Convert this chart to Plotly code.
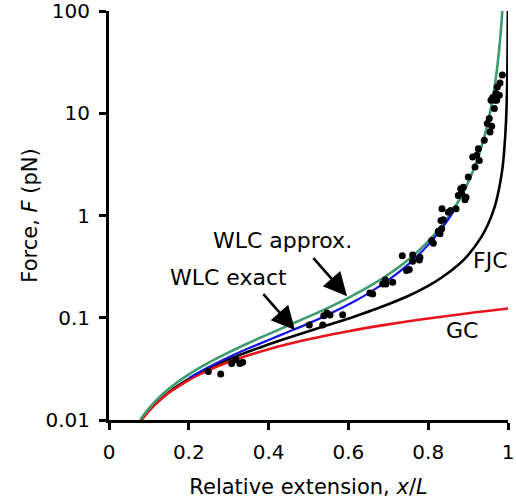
import plotly.graph_objects as go

# WLC approx. (green)
wlc_approx_x = [0.078, 0.09, 0.1, 0.12, 0.15, 0.2, 0.25, 0.3, 0.35, 0.4, 0.45, 0.5, 0.55, 0.6, 0.65,
                0.7, 0.75, 0.8, 0.85, 0.88, 0.9, 0.92, 0.94, 0.95, 0.96, 0.97, 0.975, 0.98, 0.983, 0.986]
wlc_approx_F = [0.0100, 0.01164, 0.0130, 0.01581, 0.0202, 0.0279, 0.0364, 0.0459, 0.0567, 0.0692, 0.0842,
                0.1025, 0.1258, 0.1568, 0.2002, 0.2647, 0.369, 0.558, 0.960, 1.475, 2.10, 3.26, 5.75,
                8.26, 12.9, 22.8, 32.9, 51.3, 71.0, 104.7]

# WLC exact (blue)
wlc_exact_x = [0.2, 0.25, 0.3, 0.35, 0.4, 0.45, 0.5, 0.55, 0.6, 0.65, 0.7, 0.75, 0.8, 0.85, 0.865]
wlc_exact_F = [0.0257, 0.0330, 0.0411, 0.0502, 0.0606, 0.0729, 0.0881, 0.1078, 0.1346, 0.1733,
               0.2330, 0.3323, 0.5162, 0.914, 1.128]

# FJC (black)
fjc_x = [0.081, 0.0994, 0.164, 0.241, 0.313, 0.379, 0.438, 0.537, 0.614, 0.672, 0.751, 0.800, 0.833,
         0.875, 0.900, 0.933, 0.950, 0.967, 0.975, 0.980, 0.986, 0.990, 0.995, 0.998, 0.999, 0.9996]
fjc_F = [0.0100, 0.0123, 0.0205, 0.03075, 0.041, 0.05125, 0.0615, 0.082, 0.1025, 0.123, 0.164, 0.205,
         0.246, 0.328, 0.41, 0.615, 0.82, 1.23, 1.64, 2.05, 2.87, 4.1, 8.2, 20.5, 41.0, 102.5]

# GC (red)
gc_x = [0.0813, 0.1, 0.12, 0.15, 0.2, 0.25, 0.3, 0.4, 0.5, 0.6, 0.7, 0.8, 0.9, 1.0]
gc_F = [0.0100, 0.0123, 0.01476, 0.01845, 0.0246, 0.03075, 0.0369, 0.0492, 0.0615, 0.0738, 0.0861,
        0.0984, 0.1107, 0.1230]

# measured data (dots)
data_x = [0.249, 0.280, 0.3075, 0.318, 0.328, 0.335, 0.502, 0.5356, 0.5383, 0.5464, 0.5539, 0.5857,
          0.654, 0.661, 0.686, 0.6925, 0.694, 0.711, 0.735, 0.746, 0.7526, 0.761, 0.761, 0.7777, 0.7794,
          0.8088, 0.8128, 0.8253, 0.8296, 0.8338, 0.8321, 0.8378, 0.8346, 0.8504, 0.8564, 0.8697,
          0.8754, 0.8815, 0.888, 0.884, 0.8947, 0.8922, 0.9005, 0.9115, 0.9173, 0.9216, 0.9256, 0.9281,
          0.9406, 0.9481, 0.9531, 0.9549, 0.9591, 0.9574, 0.9617, 0.9674, 0.9699, 0.9717, 0.9732,
          0.9657, 0.9782, 0.98, 0.9857]
data_F = [0.0298, 0.0281, 0.0356, 0.0390, 0.0356, 0.0368, 0.0848, 0.0848, 0.1046, 0.1112, 0.1063, 0.107,
          0.1746, 0.1707, 0.214, 0.2343, 0.214, 0.2219, 0.405, 0.289, 0.296, 0.41, 0.356, 0.368, 0.390,
          0.569, 0.535, 0.702, 0.662, 0.741, 0.893, 0.908, 1.164, 1.077, 1.119, 1.164,
          1.571, 1.827, 1.894, 1.655, 1.511, 1.426, 2.374, 3.73, 2.976, 3.875, 4.508, 3.459,
          5.43, 7.93, 8.87, 6.56, 7.46, 13.4, 14.26, 13.4, 15.6, 13.4, 18.1,
          11.1, 15.0, 19.8, 23.6]

x_ticks = [0, 0.2, 0.4, 0.6, 0.8, 1]
x_ticktext = ["0", "0.2", "0.4", "0.6", "0.8", "1"]
y_ticks = [0.01, 0.1, 1, 10, 100]
y_ticktext = ["0.01", "0.1", "1", "10", "100"]

GREEN = "#3c9c6c"
RED = "#e8141b"
BLUE = "#1414e6"

fig = go.Figure()
fig.add_trace(go.Scatter(x=fjc_x, y=fjc_F, mode="lines", line=dict(color="black", width=2.6, shape="spline"), name="FJC"))
fig.add_trace(go.Scatter(x=gc_x, y=gc_F, mode="lines", line=dict(color=RED, width=2.6, shape="spline"), name="GC"))
fig.add_trace(go.Scatter(x=wlc_approx_x, y=wlc_approx_F, mode="lines", line=dict(color=GREEN, width=2.6, shape="spline"), name="WLC approx."))
fig.add_trace(go.Scatter(x=wlc_exact_x, y=wlc_exact_F, mode="lines", line=dict(color=BLUE, width=2.2, shape="spline"), name="WLC exact"))
fig.add_trace(go.Scatter(x=data_x, y=data_F, mode="markers", marker=dict(color="black", size=7), name="data"))

font_main = "DejaVu Sans"

annots = [
    dict(text="WLC approx.", x=0.436, y=-0.245, showarrow=False),
    dict(text="WLC exact", x=0.2995, y=-0.603, showarrow=False),
    dict(text="FJC", x=0.957, y=-0.441, showarrow=False),
    dict(text="GC", x=0.884, y=-1.127, showarrow=False),
    dict(text="", x=0.5965, y=-0.789, ax=0.509, ay=-0.402, axref="x", ayref="y",
         showarrow=True, arrowhead=2, arrowsize=1.8, arrowwidth=2.6, arrowcolor="black", standoff=0),
    dict(text="", x=0.466, y=-1.12, ax=0.3835, ay=-0.755, axref="x", ayref="y",
         showarrow=True, arrowhead=2, arrowsize=1.8, arrowwidth=2.6, arrowcolor="black", standoff=0),
]
for a in annots:
    a.update(xref="x", yref="y", font=dict(family=font_main, size=22, color="black"))
    fig.add_annotation(**a)

fig.update_layout(
    width=516, height=503,
    margin=dict(l=109, r=8, t=11, b=83, autoexpand=False),
    plot_bgcolor="white", paper_bgcolor="white",
    showlegend=False,
    font=dict(family=font_main, size=20, color="black"),
)
fig.update_xaxes(
    range=[0, 1], tickvals=x_ticks, ticktext=x_ticktext, automargin=False,
    ticks="outside", ticklen=7, tickwidth=3, tickcolor="black", ticklabelstandoff=5,
    ticklabeloverflow="allow",
    showline=True, linewidth=3, linecolor="black",
    showgrid=False, zeroline=False,
    tickfont=dict(family=font_main, size=20),
    title=dict(text="Relative extension, <i>x</i>/<i>L</i>", font=dict(family=font_main, size=21), standoff=17),
)
fig.update_yaxes(
    type="log", range=[-2, 2], tickvals=y_ticks, ticktext=y_ticktext, automargin=False,
    ticks="outside", ticklen=7, tickwidth=3, tickcolor="black", ticklabelstandoff=5,
    ticklabeloverflow="allow",
    showline=True, linewidth=3, linecolor="black",
    showgrid=False, zeroline=False,
    tickfont=dict(family=font_main, size=20),
    title=dict(text="Force, <i>F</i> (pN)", font=dict(family=font_main, size=21), standoff=3),
)

fig.write_html("out.html", config={"displayModeBar": False},
               post_script="document.body.style.margin='0px';document.body.style.padding='0px';")
